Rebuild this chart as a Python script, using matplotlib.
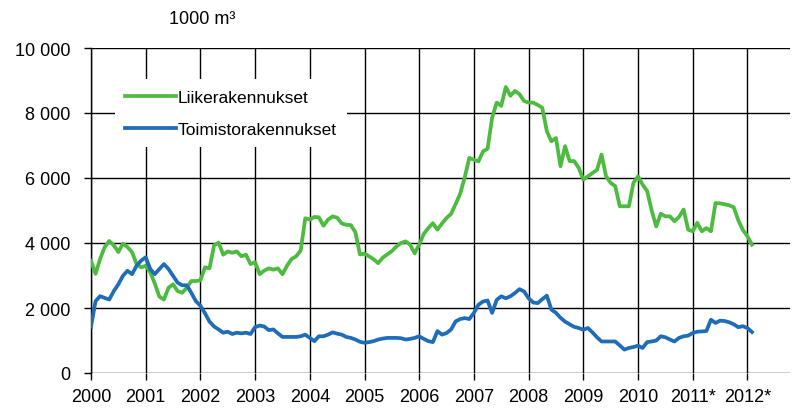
import numpy as np
import matplotlib.pyplot as plt

# --- data (1000 m3, monthly, Jan 2000 - Feb 2012) ---------------------------

START_YEAR = 2000

LIIKE = [
    # 2000
    3450, 3050, 3510, 3875, 4060, 3930, 3720, 3980, 3875, 3720, 3350, 3250,
    # 2001
    3300, 3100, 2750, 2350, 2260, 2620, 2730, 2520, 2470, 2620, 2830, 2830,
    # 2002
    2850, 3250, 3220, 3930, 4010, 3640, 3740, 3700, 3740, 3590, 3640, 3350,
    # 2003
    3410, 3040, 3150, 3220, 3180, 3220, 3040, 3300, 3510, 3590, 3770, 4760,
    # 2004
    4720, 4800, 4790, 4530, 4720, 4820, 4780, 4600, 4560, 4550, 4330, 3650,
    # 2005
    3670, 3590, 3500, 3380, 3550, 3650, 3750, 3890, 4000, 4050, 3950, 3680,
    # 2006
    3950, 4280, 4460, 4610, 4410, 4600, 4770, 4900, 5200, 5520, 6030, 6620,
    # 2007
    6560, 6510, 6820, 6900, 7860, 8320, 8220, 8800, 8530, 8680, 8580, 8370,
    # 2008
    8320, 8320, 8250, 8160, 7440, 7130, 7230, 6360, 6980, 6520, 6520, 6310,
    # 2009
    5950, 6050, 6150, 6250, 6720, 6050, 5850, 5750, 5130, 5130, 5130, 5850,
    # 2010
    6050, 5800, 5600, 5000, 4510, 4900, 4820, 4820, 4670, 4800, 5030, 4410,
    # 2011
    4360, 4620, 4360, 4460, 4360, 5230, 5220, 5190, 5160, 5100, 4700, 4400,
    # 2012
    4210, 3950,
]

TOIMISTO = [
    # 2000
    1430, 2210, 2365, 2310, 2260, 2520, 2730, 2990, 3145, 3040, 3300, 3460,
    # 2001
    3560, 3200, 3040, 3200, 3350, 3200, 2990, 2780, 2700, 2700, 2470, 2210,
    # 2002
    2070, 1840, 1580, 1430, 1340, 1240, 1270, 1200, 1240, 1220, 1240, 1200,
    # 2003
    1410, 1460, 1430, 1320, 1340, 1220, 1110, 1110, 1110, 1110, 1130, 1180,
    # 2004
    1080, 980, 1130, 1130, 1180, 1250, 1210, 1180, 1110, 1080, 1030, 960,
    # 2005
    930, 950, 980, 1030, 1060, 1080, 1080, 1080, 1070, 1030, 1050, 1080,
    # 2006
    1130, 1050, 980, 950, 1290, 1180, 1230, 1340, 1590, 1660, 1690, 1660,
    # 2007
    1850, 2100, 2200, 2230, 1850, 2250, 2360, 2300, 2360, 2460, 2580, 2510,
    # 2008
    2300, 2170, 2150, 2270, 2380, 1950, 1850, 1700, 1580, 1500, 1420, 1385,
    # 2009
    1330, 1385, 1250, 1100, 970, 970, 970, 970, 850, 720, 770, 800,
    # 2010
    840, 770, 950, 970, 1000, 1130, 1100, 1030, 970, 1080, 1130, 1150,
    # 2011
    1230, 1270, 1280, 1290, 1640, 1540, 1610, 1600, 1560, 1500, 1410, 1440,
    # 2012
    1385, 1260,
]

SERIES_NAMES = ["Liikerakennukset", "Toimistorakennukset"]
YEAR_LABELS = [str(y) for y in range(2000, 2011)] + ["2011*", "2012*"]
Y_TICKS = [0, 2000, 4000, 6000, 8000, 10000]
UNIT_LABEL = "1000 m³"

GREEN = "#4cbb3f"
BLUE = "#1f6cb8"

# --- plot -------------------------------------------------------------------

plt.rcParams["font.family"] = ["Liberation Sans", "DejaVu Sans"]

months = START_YEAR + np.arange(len(LIIKE)) / 12.0

fig = plt.figure(figsize=(7.93, 4.14), dpi=100)
ax = fig.add_axes([91 / 793, 40 / 414, 699 / 793, 325 / 414])

ax.plot(months, LIIKE, color=GREEN, lw=2.7, label=SERIES_NAMES[0],
        solid_joinstyle="round", zorder=3)
ax.plot(months, TOIMISTO, color=BLUE, lw=2.7, label=SERIES_NAMES[1],
        solid_joinstyle="round", zorder=3)

ax.set_xlim(2000, 2000 + 699 / 54.7)
ax.set_ylim(0, 10000)
ax.set_xticks(range(2000, 2013))
ax.set_xticklabels(YEAR_LABELS)
ax.set_yticks(Y_TICKS)
ax.set_yticklabels([f"{v:,}".replace(",", " ") for v in Y_TICKS])

ax.grid(True, color="black", lw=1.0)
ax.set_axisbelow(True)
for side in ("top", "right", "bottom"):
    ax.spines[side].set_visible(False)
ax.spines["left"].set_linewidth(1.0)
ax.tick_params(axis="both", length=5, width=1.0, labelsize=13)
ax.tick_params(axis="y", pad=10)
ax.tick_params(axis="x", pad=6)

leg = ax.legend(loc="upper left", bbox_to_anchor=(0.022, 0.93), fontsize=12.5,
                handlelength=2.9, handletextpad=0.1, labelspacing=0.95,
                frameon=True, fancybox=False, borderpad=0.6)
leg.get_frame().set_facecolor("white")
leg.get_frame().set_edgecolor("none")
leg.get_frame().set_alpha(1.0)
leg.set_zorder(5)

fig.text(202 / 793, 1 - 19 / 414, UNIT_LABEL, ha="center", va="center",
         fontsize=13)

fig.savefig("out.png", dpi=100)
